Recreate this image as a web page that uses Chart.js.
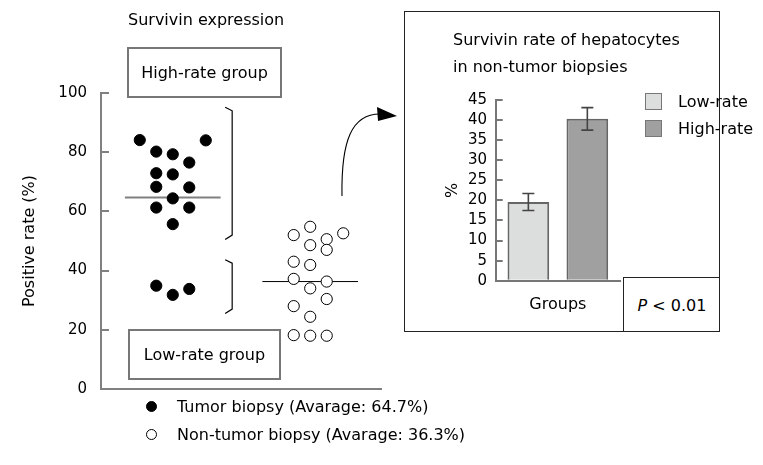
<!DOCTYPE html>
<html>
<head>
<meta charset="utf-8">
<script src="https://cdn.jsdelivr.net/npm/chart.js@4.4.1/dist/chart.umd.min.js"></script>
<style>
  html, body { margin: 0; padding: 0; background: #fff; }
  body { width: 763px; height: 465px; position: relative; overflow: hidden; font-family: "DejaVu Sans", sans-serif; font-size: 16px; color: #000; }
  .abs { position: absolute; }
  .txt { position: absolute; white-space: nowrap; line-height: 20px; }
  .group-box { position: absolute; box-sizing: border-box; border: 2px solid #777; display: flex; align-items: center; justify-content: center; }
  .swatch { position: absolute; width: 17px; height: 17px; box-sizing: border-box; border: 1px solid #777; }
  .dot { position: absolute; width: 11px; height: 11px; box-sizing: border-box; border-radius: 50%; border: 1px solid #000; }
</style>
</head>
<body>

<!-- inset frame sits under the charts -->
<div class="abs" id="inset-frame" style="left:404px; top:11px; width:316px; height:321px; box-sizing:border-box; border:1.5px solid #222;"></div>
<div class="abs" id="p-box" style="left:623px; top:277px; width:97px; height:55px; box-sizing:border-box; border-left:1.5px solid #222; border-top:1.5px solid #222; display:flex; align-items:center; justify-content:center;"><span><i>P</i> &lt; 0.01</span></div>

<canvas id="left-chart" class="abs" width="420" height="465" style="left:0; top:0;"></canvas>
<canvas id="inset-chart" class="abs" width="363" height="330" style="left:400px; top:10px;"></canvas>

<div class="txt" style="left:128px; top:10px;">Survivin expression</div>
<div class="group-box" style="left:127px; top:47px; width:155px; height:51px;">High-rate group</div>
<div class="group-box" style="left:128px; top:329px; width:153px; height:51px;">Low-rate group</div>

<div class="txt" style="left:453px; top:27px; line-height:26.7px;">Survivin rate of hepatocytes<br>in non-tumor biopsies</div>

<div id="inset-legend"></div>
<div id="main-legend"></div>

<script>
'use strict';

// *** DATA ***

let yTicks = [0, 20, 40, 60, 80, 100];

// column offsets inside each group and the positive rate (%) of each biopsy
let tumorCols = [-2, 2, -1, 0, 1, -1, 0, -1, 1, 0, -1, 1, 0, -1, 0, 1];
let tumorRates = [84.1, 84, 80.2, 79.3, 76.5, 72.9, 72.5, 68.3, 68.1, 64.4, 61.3, 61.3, 55.7, 34.9, 31.8, 33.8];

let nonTumorCols = [0, -1, 1, 2, 0, 1, -1, 0, -1, 1, 0, 1, -1, 0, -1, 0, 1];
let nonTumorRates = [54.8, 52.0, 50.6, 52.6, 48.6, 47.0, 43.0, 41.9, 37.2, 36.3, 34.0, 30.4, 28.0, 24.4, 18.2, 18.0, 18.0];

let groupNames = ['Tumor biopsy', 'Non-tumor biopsy'];
let groupAverages = [64.7, 36.3];

// brackets marking the high / low tumor groups (value ranges)
let highBracket = [94, 52];
let lowBracket = [42.5, 27];

// inset bar chart
let insetLabels = ['Groups'];
let insetSeries = ['Low-rate', 'High-rate'];
let insetMeans = [19.6, 40.3];
let insetErrors = [2.1, 2.8];
let insetTicks = [0, 5, 10, 15, 20, 25, 30, 35, 40, 45];

// *** STYLE ***

const FONT = '"DejaVu Sans", sans-serif';
const GROUP_CENTER = [0, 8.33];
const AVG_HALF = 2.9;
const insetColors = ['#dcdedd', '#a0a0a0'];

// *** HELPERS ***

function makePoints(cols, rates, center) {
  let pts = [];
  for (let i = 0; i < rates.length; i++) {
    pts.push({ x: center + cols[i], y: rates[i] });
  }
  return pts;
}

function avgLine(i) {
  return [
    { x: GROUP_CENTER[i] - AVG_HALF, y: groupAverages[i] },
    { x: GROUP_CENTER[i] + AVG_HALF, y: groupAverages[i] }
  ];
}

// brackets + curved arrow on the left chart
let decorPlugin = {
  id: 'decor',
  afterDraw(chart) {
    let ctx = chart.ctx;
    let xs = chart.scales.x;
    let ys = chart.scales.y;
    let bx = xs.getPixelForValue(3.6);

    ctx.save();
    ctx.strokeStyle = '#000';
    ctx.lineWidth = 1.2;
    [highBracket, lowBracket].forEach(function (b) {
      let y1 = ys.getPixelForValue(b[0]);
      let y2 = ys.getPixelForValue(b[1]);
      ctx.beginPath();
      ctx.moveTo(bx - 7, y1 - 3.5);
      ctx.lineTo(bx, y1);
      ctx.lineTo(bx, y2);
      ctx.lineTo(bx - 7, y2 + 4.5);
      ctx.stroke();
    });

    // arrow towards the inset
    ctx.lineWidth = 1.1;
    ctx.beginPath();
    ctx.moveTo(342, 196);
    ctx.bezierCurveTo(341, 140, 352, 114, 380, 114);
    ctx.stroke();
    ctx.fillStyle = '#000';
    ctx.beginPath();
    ctx.moveTo(377, 107);
    ctx.lineTo(397, 116);
    ctx.lineTo(378, 121);
    ctx.closePath();
    ctx.fill();
    ctx.restore();
  }
};

let errorBarPlugin = {
  id: 'errorBars',
  afterDatasetsDraw(chart) {
    let ctx = chart.ctx;
    let ys = chart.scales.y;
    ctx.save();
    ctx.strokeStyle = '#444';
    ctx.lineWidth = 1.6;
    for (let i = 0; i < insetMeans.length; i++) {
      let bar = chart.getDatasetMeta(i).data[0];
      let top = ys.getPixelForValue(insetMeans[i] + insetErrors[i]);
      let bot = ys.getPixelForValue(insetMeans[i] - insetErrors[i]);
      ctx.beginPath();
      ctx.moveTo(bar.x, top);
      ctx.lineTo(bar.x, bot);
      ctx.moveTo(bar.x - 6, top);
      ctx.lineTo(bar.x + 6, top);
      ctx.moveTo(bar.x - 6, bot);
      ctx.lineTo(bar.x + 6, bot);
      ctx.stroke();
    }
    ctx.restore();
  }
};

// *** LEFT SCATTER CHART ***

let leftChart = new Chart(document.getElementById('left-chart'), {
  type: 'scatter',
  data: {
    datasets: [
      {
        label: groupNames[0],
        data: makePoints(tumorCols, tumorRates, GROUP_CENTER[0]),
        pointRadius: 5.6,
        backgroundColor: '#000',
        borderColor: '#000',
        borderWidth: 1
      },
      {
        label: groupNames[1],
        data: makePoints(nonTumorCols, nonTumorRates, GROUP_CENTER[1]),
        pointRadius: 5.6,
        backgroundColor: '#fff',
        borderColor: '#000',
        borderWidth: 1
      },
      {
        type: 'line',
        label: 'avg0',
        data: avgLine(0),
        borderColor: '#808080',
        borderWidth: 2,
        pointRadius: 0,
        order: 5
      },
      {
        type: 'line',
        label: 'avg1',
        data: avgLine(1),
        borderColor: '#000',
        borderWidth: 1,
        pointRadius: 0,
        order: 5
      }
    ]
  },
  options: {
    responsive: false,
    animation: false,
    layout: { padding: { left: 0, top: 93, right: 39, bottom: 76 } },
    plugins: { legend: { display: false }, tooltip: { enabled: false } },
    scales: {
      x: {
        type: 'linear',
        min: -4.35,
        max: 12.62,
        ticks: { display: false },
        grid: { display: false },
        border: { color: '#808080', width: 2 },
        afterFit(s) { s.height = 0; }
      },
      y: {
        min: 0,
        max: 100,
        afterBuildTicks(s) { s.ticks = yTicks.map(v => ({ value: v })); },
        ticks: { autoSkip: false, padding: 22, color: '#000', font: { family: FONT, size: 15 } },
        grid: { drawOnChartArea: false, tickLength: -8, color: '#808080', lineWidth: 2 },
        border: { color: '#808080', width: 2 },
        title: {
          display: true,
          text: 'Positive rate (%)',
          color: '#000',
          font: { family: FONT, size: 16 },
          padding: { top: 20.4, bottom: 0 }
        },
        afterFit(s) { s.width = 101; }
      }
    }
  },
  plugins: [decorPlugin]
});

// *** INSET BAR CHART ***

let insetDatasets = [];
for (let i = 0; i < insetSeries.length; i++) {
  insetDatasets.push({
    label: insetSeries[i],
    data: [insetMeans[i]],
    backgroundColor: insetColors[i],
    borderColor: '#666',
    borderWidth: 2,
    barPercentage: 0.707,
    categoryPercentage: 0.949
  });
}

let insetChart = new Chart(document.getElementById('inset-chart'), {
  type: 'bar',
  data: { labels: insetLabels, datasets: insetDatasets },
  options: {
    responsive: false,
    animation: false,
    layout: { padding: { left: 0, top: 90, right: 143, bottom: 25.3 } },
    plugins: { legend: { display: false }, tooltip: { enabled: false } },
    scales: {
      x: {
        ticks: { display: false },
        grid: { display: false },
        border: { color: '#777', width: 2 },
        title: { display: true, text: 'Groups', color: '#000', font: { family: FONT, size: 16 }, padding: 0 },
        afterFit(s) { s.height = 34; }
      },
      y: {
        min: 0,
        max: 45,
        afterBuildTicks(s) { s.ticks = insetTicks.map(v => ({ value: v })); },
        ticks: { autoSkip: false, padding: 15.7, color: '#000', font: { family: FONT, size: 15 } },
        grid: { drawOnChartArea: false, tickLength: -7, color: '#777', lineWidth: 2 },
        border: { color: '#777', width: 2 },
        title: {
          display: true,
          text: '%',
          color: '#000',
          font: { family: FONT, size: 16 },
          padding: { top: 43.4, bottom: 0 }
        },
        afterFit(s) { s.width = 95.7; }
      }
    }
  },
  plugins: [errorBarPlugin]
});

// *** HTML LEGENDS ***

let insetLegend = document.getElementById('inset-legend');
for (let i = 0; i < insetSeries.length; i++) {
  let sw = document.createElement('div');
  sw.className = 'swatch';
  sw.style.left = '645px';
  sw.style.top = (93 + i * 27) + 'px';
  sw.style.background = insetColors[i];
  insetLegend.appendChild(sw);

  let t = document.createElement('div');
  t.className = 'txt';
  t.style.left = '678px';
  t.style.top = (91.5 + i * 27) + 'px';
  t.textContent = insetSeries[i];
  insetLegend.appendChild(t);
}

let mainLegend = document.getElementById('main-legend');
let markerFills = ['#000', '#fff'];
for (let i = 0; i < groupNames.length; i++) {
  let d = document.createElement('div');
  d.className = 'dot';
  d.style.left = '146px';
  d.style.top = (401 + i * 28.3) + 'px';
  d.style.background = markerFills[i];
  mainLegend.appendChild(d);

  let t = document.createElement('div');
  t.className = 'txt';
  t.style.left = '177px';
  t.style.top = (397 + i * 28.3) + 'px';
  t.textContent = groupNames[i] + ' (Avarage: ' + groupAverages[i] + '%)';
  mainLegend.appendChild(t);
}
</script>
</body>
</html>
